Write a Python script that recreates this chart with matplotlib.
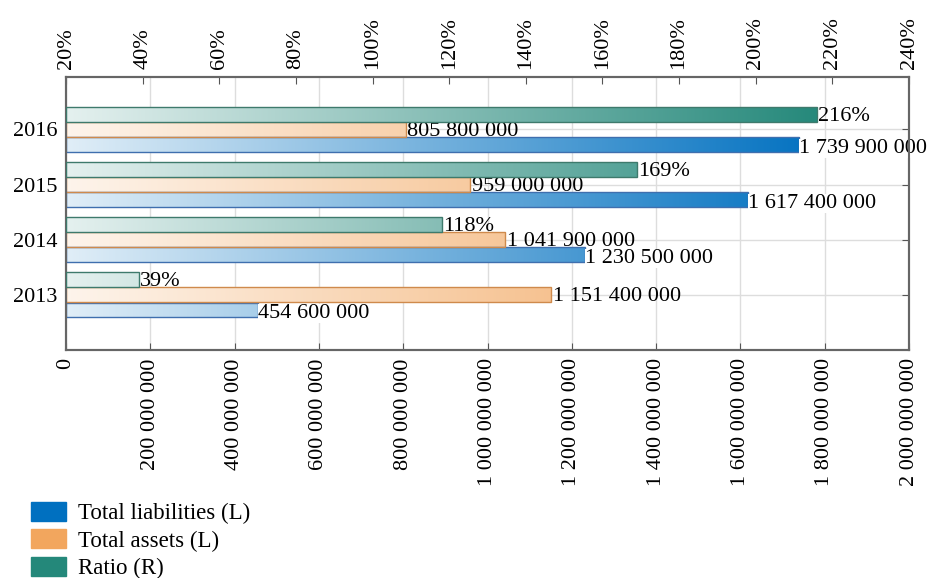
import numpy as np
import matplotlib
matplotlib.use("Agg")
import matplotlib.pyplot as plt
from matplotlib.patches import Rectangle
from matplotlib.colors import to_rgb

years = ["2013", "2014", "2015", "2016"]
liabilities = [454_600_000, 1_230_500_000, 1_617_400_000, 1_739_900_000]
assets = [1_151_400_000, 1_041_900_000, 959_000_000, 805_800_000]
ratio = [39, 118, 169, 216]

left_ticks = np.arange(0, 2_000_000_001, 200_000_000)
right_ticks = np.arange(20, 241, 20)

c_liab = "#0070C0"
c_assets = "#F2A65E"
c_ratio = "#24887A"

plt.rcParams["font.family"] = ["Liberation Serif", "DejaVu Serif"]
plt.rcParams["font.size"] = 16


def fmt(v):
    return f"{v:,}".replace(",", " ")


def gradient_bar(ax, y, width, height, color, edge, x0, x1):
    # horizontal gradient running across the whole axis, clipped to the bar
    base = np.array(to_rgb(color))
    t = np.clip(np.linspace(0, 1, 256) / 0.9, 0, 1)
    start = 0.12 * base + 0.88 * np.ones(3)
    img = start[None, :] * (1 - t[:, None]) + base[None, :] * t[:, None]
    img = img[None, :, :]
    rect = Rectangle((x0, y - height / 2), width - x0, height,
                     facecolor="none", edgecolor=edge, lw=1.0, zorder=3)
    ax.add_patch(rect)
    im = ax.imshow(img, extent=[x0, x1, y - height / 2, y + height / 2],
                   aspect="auto", zorder=2, interpolation="bilinear")
    im.set_clip_path(rect)


fig = plt.figure(figsize=(9.27, 5.78), dpi=100)
ax = fig.add_axes([0.0712, 0.3945, 0.9094, 0.4723])
ax2 = ax.twiny()

h = 0.27
off = 0.275
y = np.arange(len(years))
xmax = 2_000_000_000

for i in range(len(years)):
    gradient_bar(ax, y[i] - off, liabilities[i], h, c_liab, "#3f6fae", 0, xmax)
    gradient_bar(ax, y[i], assets[i], h, c_assets, "#cf8a4c", 0, xmax)
    gradient_bar(ax2, y[i] + off, ratio[i], h, c_ratio, "#3e7a6c", 20, 240)
    ax.annotate(fmt(liabilities[i]), (liabilities[i], y[i] - off), xytext=(0, -2.5),
                textcoords="offset points", va="center", ha="left", zorder=5,
                bbox=dict(boxstyle="square,pad=0.0", fc="white", ec="none"))
    ax.annotate(fmt(assets[i]), (assets[i], y[i]), xytext=(1, -1.5),
                textcoords="offset points", va="center", ha="left", zorder=5)
    ax2.annotate(f"{ratio[i]}%", (ratio[i], y[i] + off), xytext=(1, -1.5),
                 textcoords="offset points", va="center", ha="left", zorder=5)

ax.set_xlim(0, xmax)
ax.set_ylim(-1, 3.95)
ax2.set_xlim(20, 240)
ax2.set_ylim(-1, 3.95)

ax.set_xticks(left_ticks)
ax.set_xticklabels([fmt(v) for v in left_ticks], rotation=90)
ax.set_yticks(y)
ax.set_yticklabels(years)
ax2.set_xticks(right_ticks)
ax2.set_xticklabels([f"{v}%" for v in right_ticks], rotation=90, fontsize=16)

ax.tick_params(axis="x", direction="in", length=5, color="#555555", pad=6)
ax.tick_params(axis="y", direction="in", length=5, color="#555555", right=True, pad=6)
ax2.tick_params(axis="x", direction="in", length=5, color="#555555", pad=6)

ax.grid(True, color="#dddddd", lw=1.0, zorder=0)
ax.set_axisbelow(True)
for a in (ax, ax2):
    for s in a.spines.values():
        s.set_color("#666666")
        s.set_linewidth(1.5)

handles = [Rectangle((0, 0), 1, 1, color=c) for c in (c_liab, c_assets, c_ratio)]
fig.legend(handles, ["Total liabilities (L)", "Total assets (L)", "Ratio (R)"],
           loc="upper left", bbox_to_anchor=(0.033, 0.132), frameon=False,
           prop={"size": 16.5},
           handlelength=1.55, handleheight=0.9, labelspacing=0.22,
           handletextpad=0.5, borderaxespad=0, borderpad=0)

fig.savefig("out.png", dpi=100)
